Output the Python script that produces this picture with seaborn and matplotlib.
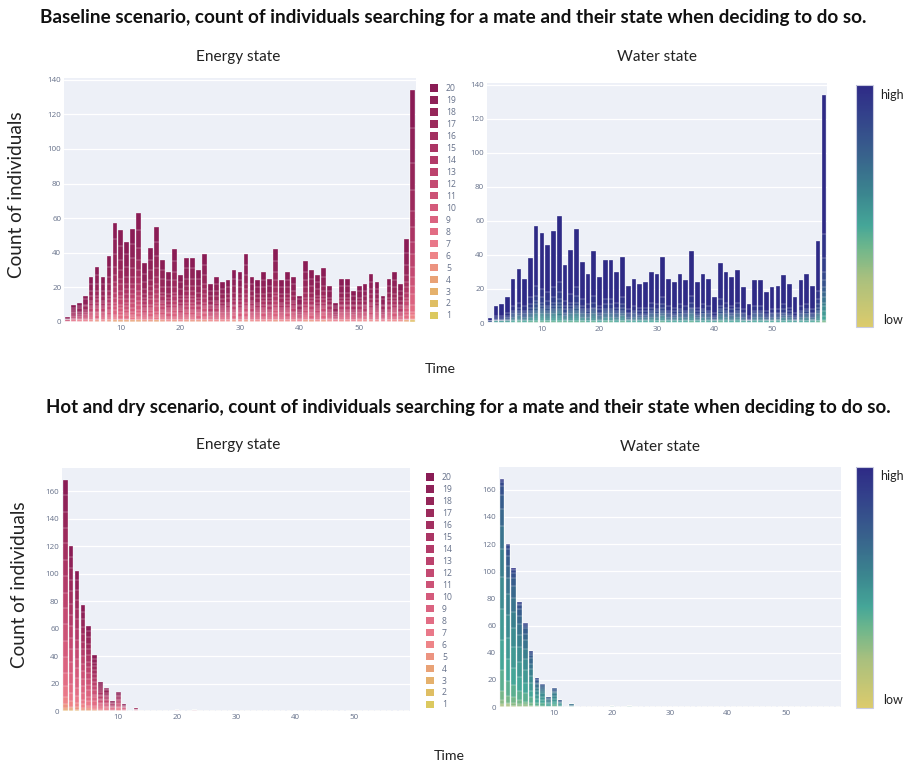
import numpy as np
import pandas as pd
import matplotlib
matplotlib.use("Agg")
import matplotlib.pyplot as plt
from matplotlib.colors import LinearSegmentedColormap
from matplotlib.patches import Patch
import matplotlib.colorbar as mcolorbar
import seaborn as sns

# ---------------------------------------------------------------- data
time = list(range(1, 60))

baseline_total = [3, 10, 11, 15, 26, 32, 26, 38, 57, 53,
                  46, 54, 63, 34, 43, 55, 36, 29, 42, 27,
                  37, 37, 30, 39, 22, 26, 23, 24, 30, 29,
                  39, 26, 24, 29, 25, 42, 24, 29, 26, 15,
                  35, 30, 27, 31, 21, 11, 25, 25, 18, 21,
                  22, 28, 23, 15, 25, 29, 22, 48, 134]

hot_dry_total = [168, 120, 102, 77, 62, 41, 21, 17, 7, 14,
                 5, 0, 2, 0, 0, 0, 0, 0, 0, 1,
                 0, 0, 1, 0, 0, 0, 0, 0, 0, 0,
                 0, 0, 0, 0, 0, 0, 0, 0, 0, 0,
                 0, 0, 0, 0, 0, 0, 0, 0, 0, 0,
                 0, 0, 0, 0, 0, 0, 0, 0, 0]

states = list(range(1, 21))

# share of searching individuals in each state (state 1 .. state 20)
energy_share_baseline = [0.002, 0.002, 0.003, 0.004, 0.006, 0.010, 0.020, 0.030, 0.040, 0.040,
                         0.040, 0.045, 0.050, 0.055, 0.060, 0.070, 0.090, 0.120, 0.150, 0.163]
water_share_baseline = [0.000, 0.000, 0.000, 0.000, 0.000, 0.002, 0.004, 0.010, 0.015, 0.020,
                        0.020, 0.020, 0.020, 0.020, 0.025, 0.030, 0.040, 0.060, 0.100, 0.614]
energy_share_hot_dry = [0.000, 0.002, 0.004, 0.008, 0.015, 0.030, 0.050, 0.060, 0.065, 0.070,
                        0.070, 0.070, 0.070, 0.070, 0.070, 0.070, 0.070, 0.070, 0.070, 0.066]
water_share_hot_dry = [0.000, 0.000, 0.002, 0.004, 0.008, 0.015, 0.040, 0.090, 0.130, 0.140,
                       0.140, 0.120, 0.100, 0.080, 0.060, 0.040, 0.020, 0.006, 0.003, 0.002]

energy_colors = ["#dcc95f", "#dfbe63", "#e5b16c", "#e9a276", "#ec9380",
                 "#ee8488", "#e97889", "#e26d84", "#db6380", "#d45a7b",
                 "#cc5276", "#c44a72", "#bc436d", "#b33b69", "#ab3564",
                 "#a32f60", "#9c2a5c", "#952659", "#8f2258", "#8a1c55"]

water_cmap = LinearSegmentedColormap.from_list(
    "water_state",
    [(0.00, "#dccb6c"), (0.20, "#a9c07e"), (0.33, "#6db68c"), (0.42, "#45a698"),
     (0.55, "#3b868f"), (0.72, "#38608c"), (0.88, "#33418b"), (1.00, "#2e2a86")])
water_colors = [water_cmap(i / 19) for i in range(20)]

# ---------------------------------------------------------------- style
W, H = 905, 764
sns.set_theme(style="white")
plt.rcParams["font.family"] = ["Lato", "DejaVu Sans"]

BG = "#edf0f7"
TICK = "#66718a"

fig = plt.figure(figsize=(W / 100, H / 100), dpi=100)
fig.patch.set_facecolor("white")


def px_box(x0, y0, x1, y1):
    return [x0 / W, 1 - y1 / H, (x1 - x0) / W, (y1 - y0) / H]


def draw_stack(ax, totals, shares, colors):
    totals = np.asarray(totals, dtype=float)
    cum = np.cumsum(shares)
    cum = cum / cum[-1]
    df = pd.DataFrame({"time": time})
    for k in range(len(shares) - 1, -1, -1):
        df["count"] = np.round(totals * cum[k])
        sns.barplot(data=df, x="time", y="count", color=colors[k], saturation=1,
                    width=0.8, native_scale=True, errorbar=None,
                    edgecolor=(1, 1, 1, 0.75), linewidth=0.3, ax=ax)


def style(ax, totals, step):
    ymax = max(totals) * 1.052
    ax.set_facecolor(BG)
    ax.set_xlim(0.45, 59.55)
    ax.set_ylim(0, ymax)
    ax.set_xticks([10, 20, 30, 40, 50])
    ax.set_yticks(np.arange(0, ymax, step))
    ax.grid(axis="y", color="white", linewidth=0.9)
    ax.grid(axis="x", visible=False)
    ax.set_axisbelow(True)
    for s in ax.spines.values():
        s.set_visible(False)
    ax.tick_params(length=0, labelsize=5.8, colors=TICK, pad=2)
    for lab in ax.get_xticklabels() + ax.get_yticklabels():
        lab.set_family(["Open Sans", "DejaVu Sans"])
    ax.set_xlabel("")
    ax.set_ylabel("")


def energy_legend(ax, x, y):
    handles = [Patch(facecolor=energy_colors[s - 1], edgecolor="none") for s in states][::-1]
    labels = [str(s) for s in states][::-1]
    leg = ax.legend(handles, labels, loc="upper left",
                    bbox_to_anchor=(x / W, 1 - y / H), bbox_transform=fig.transFigure,
                    frameon=False, fontsize=6.2, handlelength=0.95, handleheight=0.95,
                    handletextpad=0.9, labelspacing=0.345, borderpad=0, borderaxespad=0)
    for t in leg.get_texts():
        t.set_color(TICK)
        t.set_family(["Open Sans", "DejaVu Sans"])


def colorbar(x0, y0, x1, y1, hy, ly):
    cax = fig.add_axes(px_box(x0, y0, x1, y1))
    cb = mcolorbar.ColorbarBase(cax, cmap=water_cmap, orientation="vertical")
    cb.set_ticks([])
    cb.outline.set_edgecolor("#c9cbe0")
    cb.outline.set_linewidth(0.8)
    fig.text(880 / W, 1 - hy / H, "high", ha="left", va="center", fontsize=9, color="#222222")
    fig.text(883 / W, 1 - ly / H, "low", ha="left", va="center", fontsize=9, color="#222222")


# ---------------------------------------------------------------- panels
ax_tl = fig.add_axes(px_box(64, 78, 416, 322))
draw_stack(ax_tl, baseline_total, energy_share_baseline, energy_colors)
style(ax_tl, baseline_total, 20)
energy_legend(ax_tl, 430, 84)

ax_tr = fig.add_axes(px_box(487, 83, 827, 323))
draw_stack(ax_tr, baseline_total, water_share_baseline, water_colors)
style(ax_tr, baseline_total, 20)
colorbar(856, 85, 873, 327, 95, 320)

ax_bl = fig.add_axes(px_box(62, 468, 410, 711))
draw_stack(ax_bl, hot_dry_total, energy_share_hot_dry, energy_colors)
style(ax_bl, hot_dry_total, 20)
energy_legend(ax_bl, 426, 473)

ax_br = fig.add_axes(px_box(499, 467, 841, 707))
draw_stack(ax_br, hot_dry_total, water_share_hot_dry, water_colors)
style(ax_br, hot_dry_total, 20)
colorbar(856, 467, 873, 708, 476, 700)

# ---------------------------------------------------------------- text
renderer = fig.canvas.get_renderer()


def label(x, y, s, width, weight="normal", rotation=0, size=10, color="#111111"):
    t = fig.text(x / W, 1 - y / H, s, ha="center", va="center", fontsize=size,
                 fontweight=weight, rotation=rotation, color=color)
    bb = t.get_window_extent(renderer)
    cur = bb.height if rotation else bb.width
    t.set_fontsize(size * width / cur)
    return t


label(453, 18, "Baseline scenario, count of individuals searching for a mate and their state when deciding to do so.",
      825, weight="bold")
label(468, 408, "Hot and dry scenario, count of individuals searching for a mate and their state when deciding to do so.",
      843, weight="bold")
label(238, 57, "Energy state", 84, color="#222222")
label(657, 57, "Water state", 80, color="#222222")
label(238, 445, "Energy state", 84, color="#222222")
label(660, 447, "Water state", 80, color="#222222")
label(17, 195, "Count of individuals", 167, rotation=90, color="#222222")
label(20, 585, "Count of individuals", 167, rotation=90, color="#222222")
label(440, 369, "Time", 31, color="#222222")
label(449, 756, "Time", 31, color="#222222")

fig.savefig("out.png", dpi=100, facecolor="white")
